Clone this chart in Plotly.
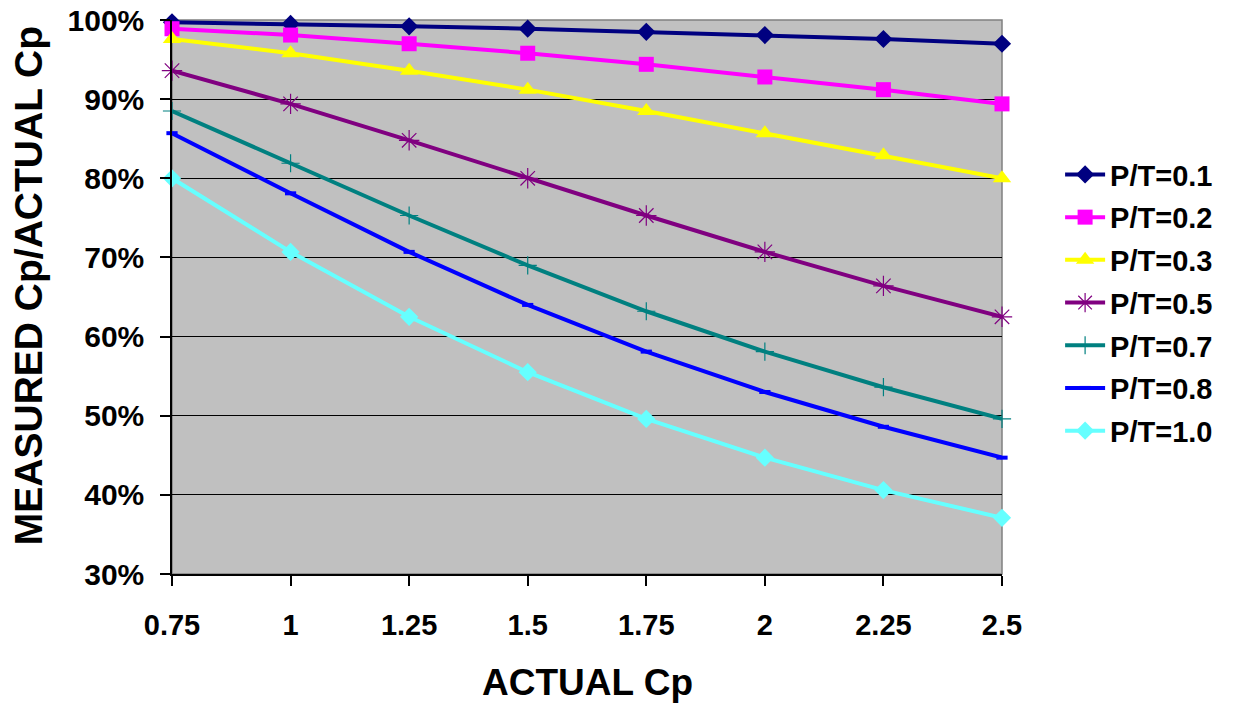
import plotly.graph_objects as go

actual_cp = [0.75, 1.0, 1.25, 1.5, 1.75, 2.0, 2.25, 2.5]
x_tick_labels = ["0.75", "1", "1.25", "1.5", "1.75", "2", "2.25", "2.5"]

pt_01 = [0.997, 0.995, 0.992, 0.989, 0.985, 0.981, 0.976, 0.970]
pt_02 = [0.989, 0.981, 0.970, 0.958, 0.944, 0.928, 0.912, 0.894]
pt_03 = [0.976, 0.958, 0.936, 0.912, 0.885, 0.857, 0.829, 0.800]
pt_05 = [0.936, 0.894, 0.848, 0.800, 0.753, 0.707, 0.664, 0.625]
pt_07 = [0.885, 0.819, 0.753, 0.690, 0.632, 0.581, 0.536, 0.496]
pt_08 = [0.857, 0.781, 0.707, 0.640, 0.581, 0.530, 0.486, 0.447]
pt_10 = [0.800, 0.707, 0.625, 0.555, 0.496, 0.447, 0.406, 0.371]

series_names = ["P/T=0.1", "P/T=0.2", "P/T=0.3", "P/T=0.5", "P/T=0.7", "P/T=0.8", "P/T=1.0"]
series_values = [pt_01, pt_02, pt_03, pt_05, pt_07, pt_08, pt_10]
series_colors = ["#000080", "#FF00FF", "#FFFF00", "#800080", "#008080", "#0000FF", "#66FFFF"]
series_symbols = ["diamond", "square", "triangle-up", "asterisk", "cross-thin", "line-ew", "diamond"]
series_sizes = [14, 15, 16, 17, 13, 8, 14]

FONT = "Arial, Liberation Sans, sans-serif"

fig = go.Figure()
for i, (name, vals, col, sym, sz) in enumerate(zip(series_names, series_values, series_colors, series_symbols, series_sizes)):
    thin = sym in ("asterisk", "cross-thin", "line-ew")
    fig.add_trace(go.Scatter(
        x=actual_cp, y=vals, name=name, mode="lines+markers",
        legendgroup=name,
        line=dict(color=col, width=4),
        marker=dict(symbol=sym, size=sz, color=col,
                    line=dict(color=col, width=(4 if sym == "line-ew" else 1.2) if thin else 0)),
        cliponaxis=False,
    ))

# plot border (gray) on top/right
fig.add_shape(type="rect", xref="paper", yref="paper", x0=0, y0=0, x1=1, y1=1,
              line=dict(color="#808080", width=1.5), layer="below")

fig.update_layout(
    width=1235, height=703,
    margin=dict(l=172, r=233, t=20, b=129, autoexpand=False),
    paper_bgcolor="white", plot_bgcolor="#C0C0C0",
    font=dict(family=FONT, color="black"),
    showlegend=True,
    legend=dict(x=1.070, y=0.767, xanchor="left", yanchor="top",
                font=dict(size=29, family=FONT, weight="bold"),
                tracegroupgap=2, bgcolor="rgba(0,0,0,0)", itemwidth=40),
    xaxis=dict(range=[0.75, 2.5], tickvals=actual_cp, ticktext=x_tick_labels,
               automargin=False,
               showgrid=False, zeroline=False, showline=True, linecolor="black", linewidth=1.5,
               ticks="outside", ticklen=10, tickcolor="black", tickwidth=1.5,
               tickfont=dict(size=29, family=FONT, weight="bold"), ticklabelstandoff=14),
    yaxis=dict(range=[0.3, 1.0], dtick=0.1, tickformat=".0%",
               automargin=False,
               showgrid=True, gridcolor="black", gridwidth=1, zeroline=False,
               showline=True, linecolor="black", linewidth=1.5,
               ticks="outside", ticklen=10, tickcolor="black", tickwidth=1.5,
               tickfont=dict(size=30, family=FONT, weight="bold"), ticklabelstandoff=10),
    annotations=[
        dict(text="ACTUAL Cp", xref="paper", yref="paper", x=0.5, y=-0.195,
             xanchor="center", yanchor="middle", showarrow=False,
             font=dict(size=37, family=FONT, weight="bold")),
        dict(text="MEASURED Cp/ACTUAL Cp", xref="paper", yref="paper", x=-0.172, y=0.52,
             xanchor="center", yanchor="middle", showarrow=False, textangle=-90,
             font=dict(size=39, family=FONT, weight="bold")),
    ],
)

fig.write_html("out.html")
